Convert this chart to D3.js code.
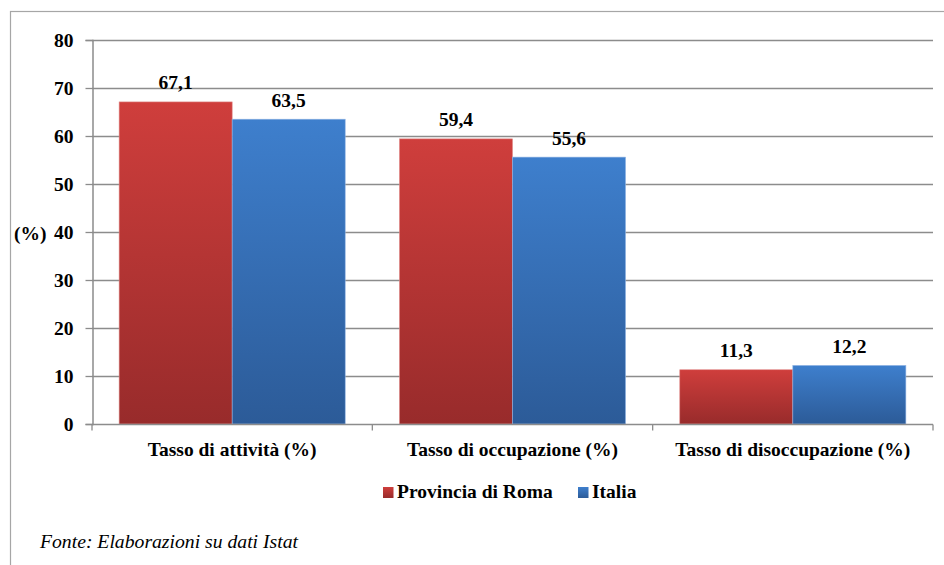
<!DOCTYPE html>
<html><head><meta charset="utf-8">
<script src="https://cdn.jsdelivr.net/npm/d3@7"></script>
<style>body{margin:0;background:#fff}svg{display:block}</style>
</head><body><svg id="c" width="944" height="565" font-family="Liberation Serif">
<text x="14" y="240" font-family="Liberation Serif" font-weight="bold" font-size="19.5">(%)</text>
<text x="40" y="548" font-family="Liberation Serif" font-style="italic" font-size="18" textLength="258" lengthAdjust="spacingAndGlyphs">Fonte: Elaborazioni su dati Istat</text>
</svg>
<script>
const categories = ["Tasso di attività (%)", "Tasso di occupazione (%)", "Tasso di disoccupazione (%)"];
const seriesNames = ["Provincia di Roma", "Italia"];
const roma = [67.1, 59.4, 11.3];
const italia = [63.5, 55.6, 12.2];
const yTicks = [0, 10, 20, 30, 40, 50, 60, 70, 80];
const colors = [["#cf3e3c", "#982b2b"], ["#3e7fcd", "#2c5b98"]];

const FF = "Liberation Serif";
const svg = d3.select("#c");
const m = {l: 92, r: 933, t: 40, b: 424};
svg.insert("rect", ":first-child").attr("x", 10.5).attr("y", 11.5).attr("width", 1000).attr("height", 1000)
  .attr("fill", "none").attr("stroke", "#a6a6a6").attr("stroke-width", 1.2);

const defs = svg.append("defs");
colors.forEach((c, i) => {
  const g = defs.append("linearGradient").attr("id", "g" + i).attr("x1", 0).attr("x2", 0).attr("y1", 0).attr("y2", 1);
  g.append("stop").attr("offset", 0).attr("stop-color", c[0]);
  g.append("stop").attr("offset", 1).attr("stop-color", c[1]);
});

const y = d3.scaleLinear().domain([0, 80]).range([m.b, m.t]);
const x0 = d3.scaleBand().domain(categories).range([m.l, m.r]).paddingInner(0).paddingOuter(0);
const x1 = d3.scaleBand().domain(seriesNames).range([0, x0.bandwidth()]).paddingOuter(0.24).paddingInner(0);

svg.append("g").selectAll("line").data(yTicks.filter(d => d > 0)).join("line")
  .attr("x1", m.l).attr("x2", m.r).attr("y1", d => Math.round(y(d)) + 0.5).attr("y2", d => Math.round(y(d)) + 0.5)
  .attr("stroke", "#8c8c8c").attr("stroke-width", 1.3);

const ya = svg.append("g").attr("transform", `translate(${m.l + 0.5},0)`)
  .call(d3.axisLeft(y).tickValues(yTicks).tickSize(7).tickPadding(12).tickFormat(d3.format("d")));
ya.attr("font-family", FF);
ya.select(".domain").attr("stroke", "#8c8c8c").attr("stroke-width", 1.5);
ya.selectAll(".tick line").attr("stroke", "#8c8c8c").attr("stroke-width", 1.3);
ya.selectAll(".tick text").attr("font-family", FF).attr("font-weight", "bold").attr("font-size", 19.5).attr("fill", "#000");

const data = categories.map((c, i) => ({c, vals: [roma[i], italia[i]]}));
const gC = svg.append("g").selectAll("g").data(data).join("g").attr("transform", d => `translate(${x0(d.c)},0)`);
gC.selectAll("rect").data(d => d.vals.map((v, j) => ({v, j, s: seriesNames[j]}))).join("rect")
  .attr("x", d => x1(d.s)).attr("width", x1.bandwidth())
  .attr("y", d => y(d.v)).attr("height", d => y(0) - y(d.v))
  .attr("fill", d => `url(#g${d.j})`).attr("stroke", d => d.j ? "#8fb3e3" : "#e08a88").attr("stroke-width", 0.6);
gC.selectAll("text").data(d => d.vals.map((v, j) => ({v, j, s: seriesNames[j]}))).join("text")
  .attr("x", d => x1(d.s) + x1.bandwidth() / 2).attr("y", d => y(d.v) - 12.5)
  .attr("text-anchor", "middle").attr("font-family", FF).attr("font-weight", "bold").attr("font-size", 19.5)
  .text(d => d3.format(".1f")(d.v).replace(".", ","));

const xa = svg.append("g").attr("transform", `translate(0,${m.b + 0.5})`);
xa.append("line").attr("x1", m.l).attr("x2", m.r).attr("stroke", "#8c8c8c").attr("stroke-width", 1.5);
xa.selectAll("line.t").data(d3.range(categories.length + 1)).join("line").attr("class", "t")
  .attr("x1", i => m.l + i * x0.bandwidth()).attr("x2", i => m.l + i * x0.bandwidth())
  .attr("y1", 0).attr("y2", 6).attr("stroke", "#8c8c8c").attr("stroke-width", 1.3);
xa.selectAll("text").data(categories).join("text")
  .attr("x", d => x0(d) + x0.bandwidth() / 2).attr("y", 31.5)
  .attr("text-anchor", "middle").attr("font-family", FF).attr("font-weight", "bold").attr("font-size", 19.5).text(d => d);

const lg = svg.append("g").attr("transform", "translate(383,492)");
const lx = [0, 195];
seriesNames.forEach((s, i) => {
  const g = lg.append("g").attr("transform", `translate(${lx[i]},0)`);
  g.append("rect").attr("x", 0).attr("y", -5).attr("width", 10.5).attr("height", 11).attr("fill", `url(#g${i})`);
  g.append("text").attr("x", 14).attr("y", 6).attr("font-family", FF).attr("font-weight", "bold").attr("font-size", 19.5).text(s);
});
</script></body></html>
